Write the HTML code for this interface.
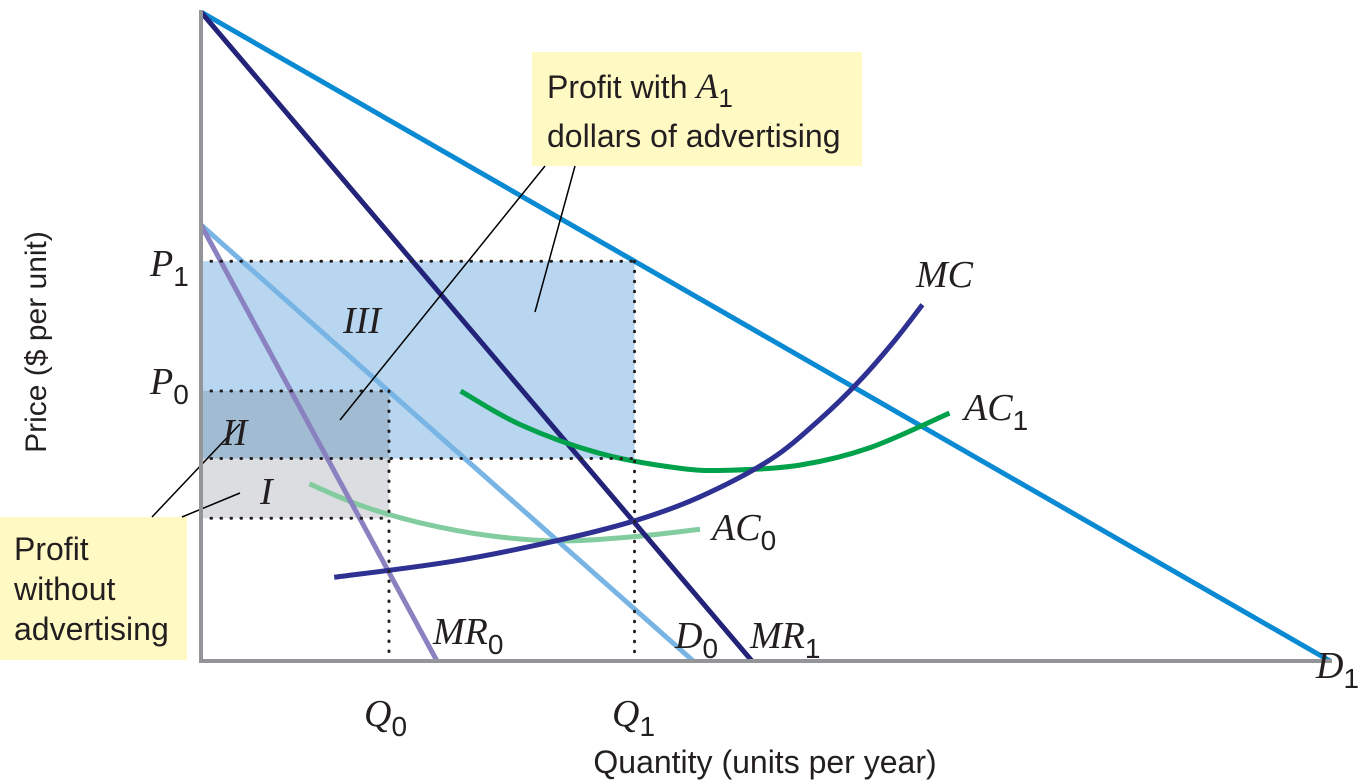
<!DOCTYPE html>
<html><head><meta charset="utf-8"><style>
html,body{margin:0;padding:0;background:#fff;}
svg{display:block;}
.ax{font-family:"Liberation Sans",sans-serif;font-size:32px;fill:#231f20;}
.it{font-family:"Liberation Serif",serif;font-style:italic;font-size:38px;fill:#231f20;}
.sub{font-family:"Liberation Sans",sans-serif;font-style:normal;font-size:28px;}
</style></head><body>
<svg id="chart" width="1366" height="780" viewBox="0 0 1366 780">
<g id="areas"></g><g id="curves"></g><g id="guides"></g>
<rect x="532" y="52" width="330" height="114" fill="#fff9c4"/>
<text class="ax" x="547" y="98">Profit with <tspan class="it" style="font-size:36px">A</tspan><tspan font-size="26" dy="9">1</tspan></text>
<text class="ax" x="547" y="147">dollars of advertising</text>
<line x1="545" y1="166" x2="340" y2="420" stroke="#000" stroke-width="1.5"/>
<line x1="575" y1="166" x2="535" y2="312" stroke="#000" stroke-width="1.5"/>
<rect x="0" y="517" width="187" height="143" fill="#fff9c4"/>
<text class="ax" x="14" y="560">Profit</text>
<text class="ax" x="14" y="600">without</text>
<text class="ax" x="14" y="640">advertising</text>
<line x1="152" y1="517" x2="240" y2="424" stroke="#000" stroke-width="1.5"/>
<line x1="182" y1="517" x2="240" y2="493" stroke="#000" stroke-width="1.5"/>
<line x1="201" y1="10" x2="201" y2="663" stroke="#939598" stroke-width="4"/>
<line x1="199" y1="661" x2="1332" y2="661" stroke="#939598" stroke-width="4"/>
<text class="ax" style="font-size:30px" transform="translate(46,342) rotate(-90)" text-anchor="middle">Price ($ per unit)</text>
<text class="ax" x="765" y="773" text-anchor="middle">Quantity (units per year)</text>
<g id="labels"></g>
</svg>
<script>
const NS="http://www.w3.org/2000/svg";
const xs=q=>201+q*11.29, ys=p=>661-p*6.49;
const priceLevels=[61.6,41.6,31.2,22.0]; // P1, P0, mid, bottom
const qtyLevels=[16.65,38.4]; // Q0, Q1
const d1=[[0,100],[100,0]];
const d0=[[0,67.2],[43.6,0]];
const mr0=[[0,67.2],[20.9,0]];
const mr1=[[0,100],[48.8,0]];
const mc=[[11.8,12.9],[22.1,15.3],[30.9,18.3],[38.4,21.6],[44.2,25.3],[50.4,31.0],[54.8,37.2],[58.4,43.3],[61.5,49.5],[63.9,54.9]];
const ac1=[[23.0,41.6],[28.3,36.4],[35.3,32.0],[42.4,29.7],[46.9,29.4],[53.1,30.2],[59.3,32.9],[66.3,38.2]];
const ac0=[[9.6,27.3],[14.1,24.0],[19.4,21.3],[25.6,19.3],[31.8,18.5],[38.0,19.1],[44.2,20.3]];
function mk(tag,attrs,parent){const e=document.createElementNS(NS,tag);for(const k in attrs)e.setAttribute(k,attrs[k]);document.getElementById(parent).appendChild(e);return e;}
function smooth(pts){const P=pts.map(p=>[xs(p[0]),ys(p[1])]);let d="M"+P[0][0]+","+P[0][1];
for(let i=0;i<P.length-1;i++){const p0=P[i-1]||P[i],p1=P[i],p2=P[i+1],p3=P[i+2]||p2;
d+=" C"+(p1[0]+(p2[0]-p0[0])/6)+","+(p1[1]+(p2[1]-p0[1])/6)+" "+(p2[0]-(p3[0]-p1[0])/6)+","+(p2[1]-(p3[1]-p1[1])/6)+" "+p2[0]+","+p2[1];}return d;}
const [P1,P0,Pm,Pb]=priceLevels,[Q0,Q1]=qtyLevels;
let e;
e=mk("rect",{x:xs(0),y:ys(P1),width:xs(Q1)-xs(0),height:ys(Pm)-ys(P1),fill:"#b8d6f0"},"areas");


e=mk("rect",{x:xs(0),y:ys(P0),width:xs(Q0)-xs(0),height:ys(Pm)-ys(P0),fill:"#a1bbd3"},"areas");


e=mk("rect",{x:xs(0),y:ys(Pm),width:xs(Q0)-xs(0),height:ys(Pb)-ys(Pm),fill:"#dcdde0"},"areas");


const dot={stroke:"#231f20","stroke-width":3,"stroke-dasharray":"0.5 9.5","stroke-linecap":"round",fill:"none"};
function gl(x1,y1,x2,y2,name){const el=mk("line",Object.assign({x1,y1,x2,y2},dot),"guides");}
gl(xs(0),ys(P1),xs(Q1),ys(P1),'guide-p1');
gl(xs(0),ys(P0),xs(Q0),ys(P0),'guide-p0');
gl(xs(0),ys(Pm),xs(Q1),ys(Pm),'guide-mid');
gl(xs(0),ys(Pb),xs(Q0),ys(Pb),'guide-bottom');
gl(xs(Q0),ys(P0),xs(Q0),ys(0),'guide-q0');
gl(xs(Q1),ys(P1),xs(Q1),ys(0),'guide-q1');
function line(pts,col,name){const el=mk("path",{d:"M"+pts.map(p=>xs(p[0])+","+ys(p[1])).join(" L"),stroke:col,"stroke-width":5,fill:"none"},"curves");}
function curve(pts,col,name){const el=mk("path",{d:smooth(pts),stroke:col,"stroke-width":5,fill:"none"},"curves");}
line(d1,"#0a8ad2","demand-d1");
curve(ac0,"#82cca0","curve-ac0");
line(d0,"#78b4e4","demand-d0");
line(mr0,"#8a82c0","curve-mr0");
line(mr1,"#23237a","curve-mr1");
curve(ac1,"#00a14b","curve-ac1");
curve(mc,"#2e3192","curve-mc");
const labels=[["P","1",150,276,"label-p1"],["P","0",150,394,"label-p0"],["Q","0",364,726,"label-q0"],["Q","1",612,726,"label-q1"],
["MC","",916,287,"label-mc"],["AC","1",964,420,"label-ac1"],["AC","0",712,540,"label-ac0"],["MR","0",433,644,"label-mr0"],
["D","0",675,648,"label-d0"],["MR","1",750,648,"label-mr1"],["D","1",1316,678,"label-d1"]];
labels.forEach(l=>{const t=mk("text",{class:"it",x:l[2],y:l[3]},"labels");t.textContent=l[0];
if(l[1]){const s=document.createElementNS(NS,"tspan");s.setAttribute("class","sub");s.setAttribute("dy","10");s.textContent=l[1];t.appendChild(s);}

});
[["III",343,333],["II",222,445],["I",260,504]].forEach(r=>{const t=mk("text",{class:"it",x:r[1],y:r[2]},"labels");t.textContent=r[0];

});
</script>
</body></html>
